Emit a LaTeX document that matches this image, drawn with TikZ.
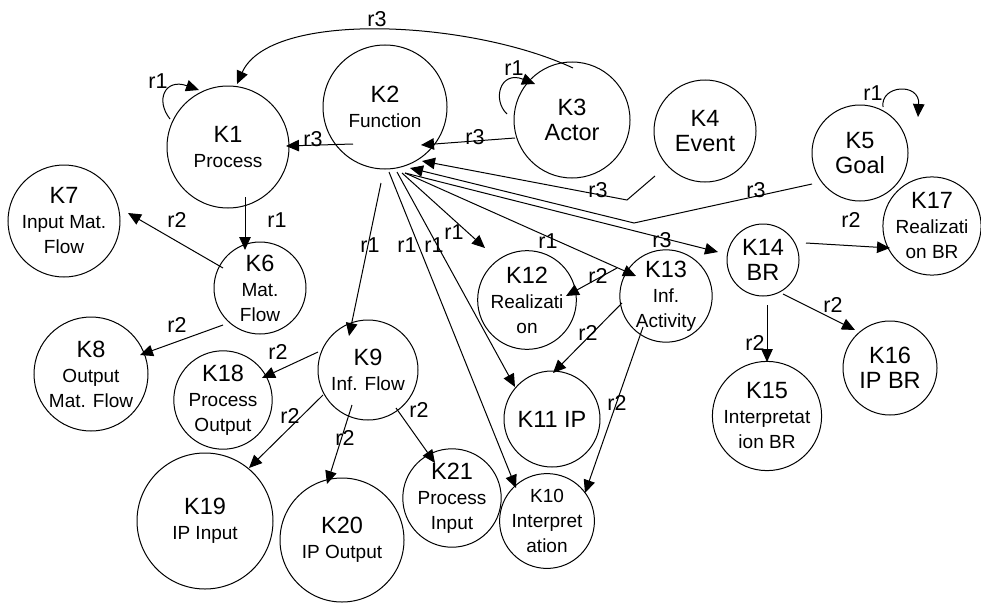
\documentclass[tikz,border=0pt]{standalone}
\usepackage{fontspec}
\setmainfont{Liberation Sans}
\usetikzlibrary{arrows.meta}
\newcommand\kbig{\fontsize{23.5}{25}\selectfont}
\newcommand\ksmall{\fontsize{19}{25}\selectfont}
\newcommand\klab{\fontsize{21.5}{24}\selectfont}
\begin{document}
\begin{tikzpicture}[x=1pt,y=-1pt,
  kn/.style={circle,draw,line width=1pt,inner sep=0pt,align=center,font=\kbig},
  lab/.style={font=\klab,inner sep=0pt},
  arr/.style={line width=1pt,-{Triangle[length=13pt,width=11.5pt]}}]
\useasboundingbox (0,0) rectangle (981,602);
% nodes
\node[kn,minimum size=122] (K1) at (228,147) {K1\\\ksmall Process};
\node[kn,minimum size=124] (K2) at (385,107) {K2\\\ksmall Function};
\node[kn,minimum size=116] (K3) at (572,120) {K3\\Actor};
\node[kn,minimum size=102] (K4) at (705,131) {K4\\Event};
\node[kn,minimum size=96] (K5) at (860,153) {K5\\Goal};
\node[kn,minimum size=92] (K6) at (260,288) {K6\\\ksmall Mat.\\\ksmall Flow};
\node[kn,minimum size=112] (K7) at (64,221) {K7\\\ksmall Input Mat.\\\ksmall Flow};
\node[kn,minimum size=114] (K8) at (91,374) {K8\\\ksmall Output\\\ksmall Mat. Flow};
\node[kn,minimum size=100] (K9) at (368,370) {K9\\\ksmall Inf. Flow};
\node[kn,minimum size=90,font=\ksmall] (K10) at (547,521) {K10\\\ksmall Interpret\\\ksmall ation};
\node[kn,minimum size=96] (K11) at (552,419) {K11 IP};
\node[kn,minimum size=90] (K12) at (527,300) {K12\\\ksmall Realizati\\\ksmall on};
\node[kn,minimum size=82] (K13) at (666,296) {K13\\\ksmall Inf.\\\ksmall Activity};
\node[kn,minimum size=72] (K14) at (763,260) {K14\\BR};
\node[kn,minimum size=108] (K15) at (767,416) {K15\\\ksmall Interpretat\\\ksmall ion BR};
\node[kn,minimum size=94] (K16) at (890,368) {K16\\IP BR};
\node[kn,minimum size=98] (K17) at (932,226) {K17\\\ksmall Realizati\\\ksmall on BR};
\node[kn,minimum size=94] (K18) at (223,400) {K18\\\ksmall Process\\\ksmall Output};
\node[kn,minimum size=136] (K19) at (205,521) {K19\\\ksmall IP Input};
\node[kn,minimum size=124] (K20) at (342,540) {K20\\\ksmall IP Output};
\node[kn,minimum size=94] (K21) at (452,498) {K21\\\ksmall Process\\\ksmall Input};
% bend points
\coordinate (b4) at (627,200);
\coordinate (b5) at (634,223);
% connectors
\draw[arr] ([shift={(1,-52)}]K3.center) .. controls (470,20) and (270,10) .. ([shift={(9,-63)}]K1.center);
\draw[arr] ([shift={(-58,-28)}]K1.center) .. controls (155,100) and (165,78) .. ([shift={(-29,-57)}]K1.center);
\draw[arr] ([shift={(-65,-6)}]K3.center) .. controls (492,100) and (500,70) .. ([shift={(-37,-36)}]K3.center);
\draw[arr] ([shift={(23,-46)}]K5.center) .. controls (880,85) and (920,82) .. ([shift={(58,-36)}]K5.center);
\draw[arr] ([shift={(-32,37)}]K2.center) -- ([shift={(58,-1)}]K1.center);
\draw[arr] ([shift={(-57,18)}]K3.center) -- ([shift={(36,38)}]K2.center);
\draw[arr] ([shift={(-50,45)}]K4.center) -- (b4) -- ([shift={(37,54)}]K2.center);
\draw[arr] ([shift={(-48,31)}]K5.center) -- (b5) -- ([shift={(25,61)}]K2.center);
\draw[arr] ([shift={(20,66)}]K2.center) -- ([shift={(-45,-8)}]K14.center);
\draw[arr] ([shift={(-4,76)}]K2.center) -- ([shift={(-19,-34)}]K9.center);
\draw[arr] ([shift={(4,65)}]K2.center) -- ([shift={(-31,-33)}]K10.center);
\draw[arr] ([shift={(12,65)}]K2.center) -- ([shift={(-37,-32)}]K11.center);
\draw[arr] ([shift={(17,66)}]K2.center) -- ([shift={(-42,-52)}]K12.center);
\draw[arr] ([shift={(20,66)}]K2.center) -- ([shift={(-30,-20)}]K13.center);
\draw[arr] ([shift={(-49,-28)}]K13.center) -- ([shift={(39,-4)}]K12.center);
\draw[arr] ([shift={(-44,7)}]K13.center) -- ([shift={(1,-46)}]K11.center);
\draw[arr] ([shift={(-23,31)}]K13.center) -- ([shift={(38,-28)}]K10.center);
\draw[arr] ([shift={(43,-17)}]K14.center) -- ([shift={(-42,22)}]K17.center);
\draw[arr] ([shift={(20,34)}]K14.center) -- ([shift={(-35,-38)}]K16.center);
\draw[arr] ([shift={(4,45)}]K14.center) -- ([shift={(0,-54)}]K15.center);
\draw[arr] ([shift={(17,50)}]K1.center) -- ([shift={(-15,-38)}]K6.center);
\draw[arr] ([shift={(-37,-20)}]K6.center) -- ([shift={(64,-8)}]K7.center);
\draw[arr] ([shift={(-37,37)}]K6.center) -- ([shift={(49,-19)}]K8.center);
\draw[arr] ([shift={(-50,-18)}]K9.center) -- ([shift={(39,-22)}]K18.center);
\draw[arr] ([shift={(-45,25)}]K9.center) -- ([shift={(44,-53)}]K19.center);
\draw[arr] ([shift={(-16,35)}]K9.center) -- ([shift={(-15,-56)}]K20.center);
\draw[arr] ([shift={(28,38)}]K9.center) -- ([shift={(-17,-35)}]K21.center);
% labels
\node[lab] (l1) at (377,19) {r3};
\node[lab] (l2) at (158,81) {r1};
\node[lab] (l3) at (514,68) {r1};
\node[lab] (l4) at (873,93) {r1};
\node[lab] (l5) at (313,139) {r3};
\node[lab] (l6) at (475,137) {r3};
\node[lab] (l7) at (598,190) {r3};
\node[lab] (l8) at (756,190) {r3};
\node[lab] (l9) at (662,240) {r3};
\node[lab] (l10) at (370,245) {r1};
\node[lab] (l11) at (407,245) {r1};
\node[lab] (l12) at (434,245) {r1};
\node[lab] (l13) at (454,232) {r1};
\node[lab] (l14) at (548,241) {r1};
\node[lab] (l15) at (598,276) {r2};
\node[lab] (l16) at (588,333) {r2};
\node[lab] (l17) at (617,403) {r2};
\node[lab] (l18) at (851,220) {r2};
\node[lab] (l19) at (833,305) {r2};
\node[lab] (l20) at (755,343) {r2};
\node[lab] (l21) at (277,220) {r1};
\node[lab] (l22) at (177,220) {r2};
\node[lab] (l23) at (177,325) {r2};
\node[lab] (l24) at (278,352) {r2};
\node[lab] (l25) at (290,416) {r2};
\node[lab] (l26) at (345,438) {r2};
\node[lab] (l27) at (419,410) {r2};
\end{tikzpicture}
\end{document}
